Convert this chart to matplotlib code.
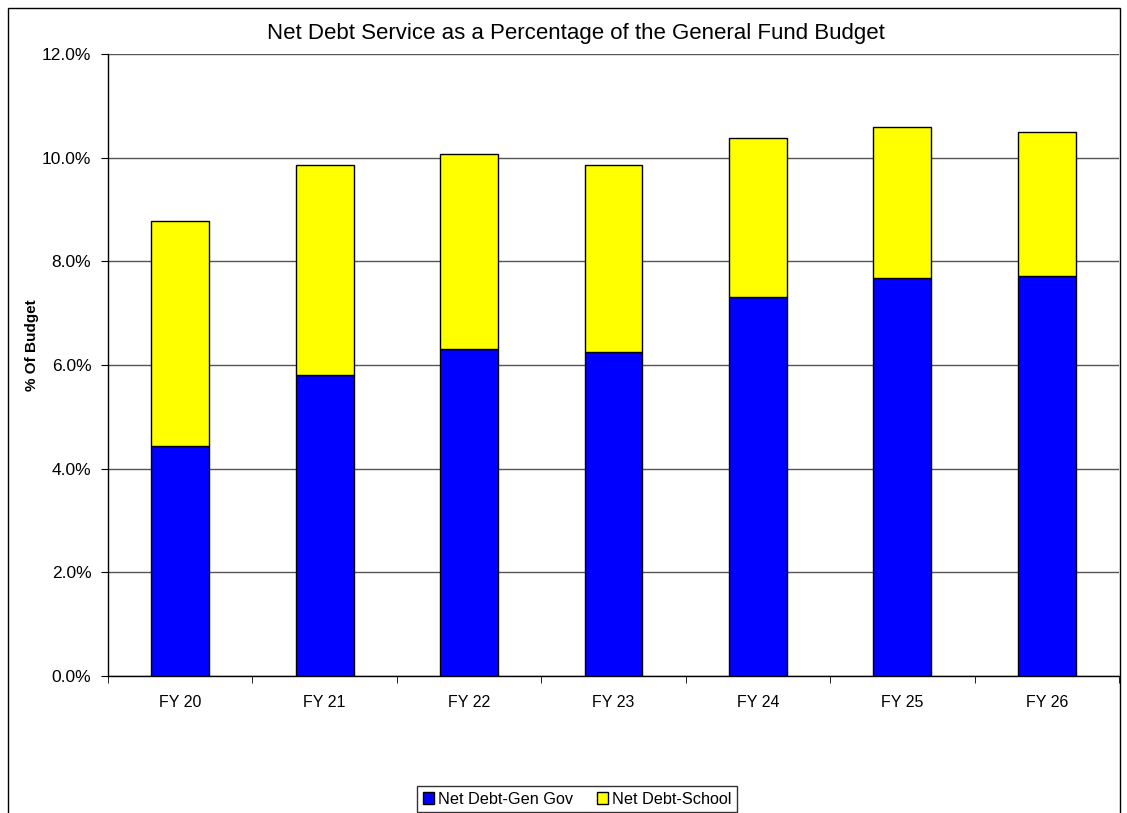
#!/usr/bin/env python

import matplotlib
matplotlib.use("Agg")
import matplotlib.pyplot as plt
from matplotlib.patches import Rectangle
from matplotlib.ticker import FuncFormatter, MultipleLocator
import numpy as np

YEARS = ["FY 20", "FY 21", "FY 22", "FY 23", "FY 24", "FY 25", "FY 26"]
GEN_GOV = [4.43, 5.80, 6.30, 6.26, 7.31, 7.67, 7.72]
TOTAL = [8.77, 9.85, 10.07, 9.85, 10.38, 10.59, 10.50]
SCHOOL = [t - g for t, g in zip(TOTAL, GEN_GOV)]


def main():
    plt.rcParams["font.family"] = ["Liberation Sans", "DejaVu Sans"]
    fig = plt.figure(figsize=(11.27, 8.13), dpi=100)
    ax = fig.add_axes([108 / 1127, 1 - 676 / 813, 1011 / 1127, 622 / 813])

    x = np.arange(len(YEARS))
    ax.bar(x, GEN_GOV, width=0.40, color="#0000ff", edgecolor="black",
           linewidth=1, label="Net Debt-Gen Gov", zorder=3)
    ax.bar(x, SCHOOL, width=0.40, bottom=GEN_GOV, color="#ffff00",
           edgecolor="black", linewidth=1, label="Net Debt-School", zorder=3)

    ax.set_xlim(-0.5, len(YEARS) - 0.5)
    ax.set_ylim(0, 12)
    ax.yaxis.set_major_locator(MultipleLocator(2))
    ax.yaxis.set_major_formatter(FuncFormatter(lambda v, p: f"{v:.1f}%"))
    ax.grid(axis="y", color="#555555", linewidth=1, zorder=0)

    ax.set_xticks(x)
    ax.set_xticklabels(YEARS)
    ax.set_xticks(np.arange(len(YEARS) + 1) - 0.5, minor=True)
    ax.tick_params(axis="x", which="major", length=0, pad=14, labelsize=11.5)
    ax.tick_params(axis="x", which="minor", length=5, direction="out")
    ax.tick_params(axis="y", length=5, direction="out", labelsize=12.5, pad=7)

    for side in ["top", "right"]:
        ax.spines[side].set_visible(False)
    ax.spines["left"].set_linewidth(1)
    ax.spines["bottom"].set_linewidth(1)

    ax.set_ylabel("% Of Budget", fontsize=11, fontweight="bold")
    ax.yaxis.set_label_coords(-69 / 1011, (676 - 345) / 622)
    fig.text(576 / 1127, 1 - 33 / 813,
             "Net Debt Service as a Percentage of the General Fund Budget",
             ha="center", va="center", fontsize=16)

    # chart border
    fig.patches.append(Rectangle((8 / 1127, -0.05), 1112 / 1127, 1.05 - 8 / 813,
                                 transform=fig.transFigure, fill=False,
                                 edgecolor="black", linewidth=1))

    leg = fig.legend(loc="center", bbox_to_anchor=(577 / 1127, 1 - 799 / 813),
                     ncol=2, fontsize=11.7, frameon=True, fancybox=False,
                     edgecolor="black", handlelength=0.7, handleheight=0.7,
                     handletextpad=0.2, columnspacing=1.5, borderpad=0.35,
                     borderaxespad=0)
    leg.get_frame().set_linewidth(1)

    fig.savefig("out.png", dpi=100)


if __name__ == "__main__":
    main()
